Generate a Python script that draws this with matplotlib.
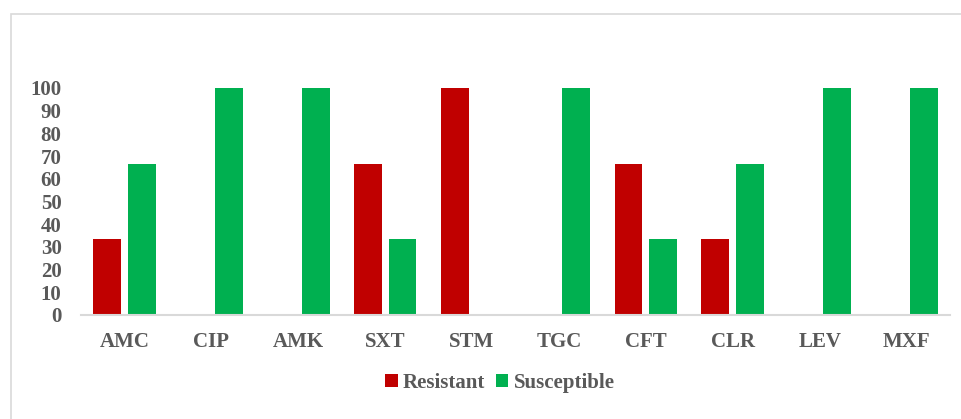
import matplotlib.pyplot as plt
import numpy as np
from matplotlib.patches import Rectangle

# antibiotics and percentages
drugs = ["AMC", "CIP", "AMK", "SXT", "STM", "TGC", "CFT", "CLR", "LEV", "MXF"]
resistant = [33.3, 0, 0, 66.7, 100, 0, 66.7, 33.3, 0, 0]
susceptible = [66.7, 100, 100, 33.3, 0, 100, 33.3, 66.7, 100, 100]

plt.rcParams["font.family"] = ["Liberation Serif", "DejaVu Serif"]
plt.rcParams["font.weight"] = "bold"

fig = plt.figure(figsize=(9.61, 4.19), dpi=100)
ax = fig.add_axes([81 / 961, 1 - 315 / 419, (950 - 81) / 961, (315 - 88) / 419])

# chart border
fig.patches.append(Rectangle((11 / 961, -0.1), 1.2, 1 - 14 / 419 + 0.1,
                             transform=fig.transFigure, fill=False,
                             edgecolor="#D9D9D9", linewidth=1.2))

x = np.arange(len(drugs))
w = 0.32
ax.bar(x - 0.2, resistant, w, color="#C00000", label="Resistant")
ax.bar(x + 0.2, susceptible, w, color="#00B050", label="Susceptible")

ax.set_xlim(-0.5, len(drugs) - 0.5)
ax.set_ylim(0, 100)
ax.set_yticks(range(0, 101, 10))
ax.set_xticks(x)
ax.set_xticklabels(drugs)

for s in ["top", "right", "left"]:
    ax.spines[s].set_visible(False)
ax.spines["bottom"].set_color("#D9D9D9")
ax.spines["bottom"].set_linewidth(1.5)
ax.tick_params(axis="both", length=0, labelsize=15, labelcolor="#595959")
ax.tick_params(axis="y", pad=14)
ax.tick_params(axis="x", pad=12)
for lab in ax.get_xticklabels() + ax.get_yticklabels():
    lab.set_fontweight("bold")

leg = fig.legend(loc="center", bbox_to_anchor=(500 / 961, 1 - 383 / 419), ncol=2,
                 frameon=False, prop={"size": 15, "weight": "bold"},
                 handlelength=0.6, handleheight=0.6,
                 handletextpad=0.25, columnspacing=0.5)
for t in leg.get_texts():
    t.set_color("#595959")

fig.savefig("out.png", dpi=100)
